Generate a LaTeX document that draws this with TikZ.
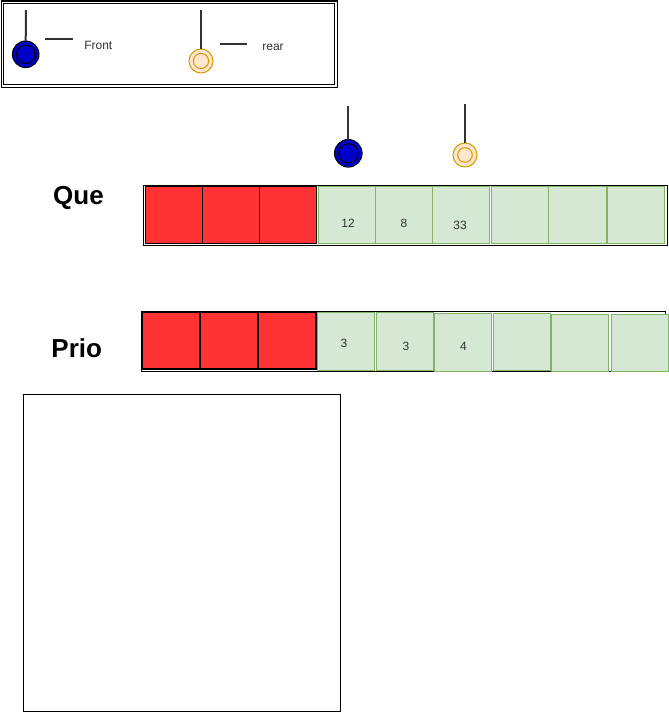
\documentclass[tikz,border=0pt]{standalone}
\usepackage{fontspec}
\setmainfont{Liberation Sans}
\usetikzlibrary{fit}
\definecolor{cellred}{HTML}{FF3333}
\definecolor{cellgreenfill}{HTML}{D5E8D4}
\definecolor{cellgreenline}{HTML}{82B366}
\definecolor{frontblue}{HTML}{0000CC}
\definecolor{rearfill}{HTML}{FFE6CC}
\definecolor{rearline}{HTML}{D79B00}
\definecolor{pinline}{HTML}{333333}
\definecolor{txt}{HTML}{333333}
\tikzset{
  cellbase/.style={inner sep=0pt, outer sep=0pt},
  redq/.style={cellbase, fill=cellred, draw=black, line width=0.9pt},
  redp/.style={cellbase, fill=cellred, draw=black, line width=1.8pt},
  greencell/.style={cellbase, fill=cellgreenfill, draw=cellgreenline, line width=1pt},
  rowframe/.style={cellbase, draw=black, line width=1pt},
  plainbox/.style={cellbase, draw=black, line width=1pt},
  pinstem/.style={draw=pinline, line width=2pt},
  dashmark/.style={draw=pinline, line width=2pt},
  fronthead/.style={circle, fill=frontblue, draw=black, line width=1pt, inner sep=0pt, outer sep=0pt},
  rearhead/.style={circle, fill=rearfill, draw=rearline, line width=1pt, inner sep=0pt, outer sep=0pt},
  frontring/.style={draw=black, line width=1pt},
  rearring/.style={draw=rearline, line width=1pt},
  smalltext/.style={font=\fontsize{12}{14}\selectfont, text=txt, inner sep=0pt, anchor=base},
  rowlabel/.style={font=\fontsize{26}{30}\selectfont\bfseries, text=black, inner sep=0pt, anchor=base}
}
\begin{document}
\begin{tikzpicture}[x=1pt,y=-1pt]
\useasboundingbox (0,0) rectangle (669,712);
\fill[white] (0,0) rectangle (669,712);

% ---------- legend ----------
\node[plainbox, fit={(1,1) (337.5,87.5)}] (legend) {};
\node[plainbox, fit={(3.7,3.7) (334.8,84.8)}] (legendinner) {};

\coordinate (lfTop) at (26,10);
\node[fronthead, minimum size=26.6pt] (lfHead) at (25.7,54.3) {};
\draw[frontring] (lfHead.center) circle (9.3pt);
\draw[pinstem] (lfTop) -- (lfHead.north);
\coordinate (lfDashA) at (45,39.3);
\coordinate (lfDashB) at (72.7,39.3);
\draw[dashmark] (lfDashA) -- (lfDashB);
\node[smalltext] (lfText) at (98.3,49) {Front};

\coordinate (lrTop) at (201,10);
\node[rearhead, minimum size=24pt] (lrHead) at (201,61) {};
\draw[rearring] (lrHead.center) circle (7.6pt);
\draw[pinstem] (lrTop) -- (lrHead.north);
\coordinate (lrDashA) at (220,44);
\coordinate (lrDashB) at (247.3,44);
\draw[dashmark] (lrDashA) -- (lrDashB);
\node[smalltext] (lrText) at (273,50) {rear};

% ---------- pointers ----------
\coordinate (pfTop) at (348.3,105.7);
\node[fronthead, minimum size=27.6pt] (pfHead) at (348.3,153.3) {};
\draw[frontring] (pfHead.center) circle (9.7pt);
\draw[pinstem] (pfTop) -- (pfHead.north);

\coordinate (prTop) at (465,104.3);
\node[rearhead, minimum size=24pt] (prHead) at (465,155) {};
\draw[rearring] (prHead.center) circle (7.3pt);
\draw[pinstem] (prTop) -- (prHead.north);

% ---------- Que row ----------
\node[rowlabel] (queLabel) at (78.5,204.3) {Que};
\node[rowframe, fit={(143.3,185.3) (667.3,245.3)}] (queFrame) {};
\node[redq, fit={(145.3,186.7) (202.3,243.3)}] (q1) {};
\node[redq, fit={(202.3,186.7) (259.3,243.3)}] (q2) {};
\node[redq, fit={(259.3,186.7) (316.3,243.3)}] (q3) {};
\node[greencell, fit={(318,186.7) (375,243.7)}] (q4) {};
\node[greencell, fit={(375,186.7) (432.4,243.7)}] (q5) {};
\node[greencell, fit={(432.4,186.7) (489.7,243.7)}] (q6) {};
\node[greencell, fit={(491,186.7) (548.3,243.7)}] (q7) {};
\node[greencell, fit={(548.3,186.7) (606,243.7)}] (q8) {};
\node[greencell, fit={(607,186.7) (664.7,243.7)}] (q9) {};
\node[smalltext] (qv1) at (348,227) {12};
\node[smalltext] (qv2) at (404,227) {8};
\node[smalltext] (qv3) at (460,229) {33};

% ---------- Prio row ----------
\node[rowlabel] (prioLabel) at (76.7,357.7) {Prio};
\node[rowframe, fit={(141.3,311.3) (665.7,371)}] (prioFrame) {};
\node[redp, fit={(142.3,312.3) (200,369.3)}] (p1) {};
\node[redp, fit={(200,312.3) (258,369.3)}] (p2) {};
\node[redp, fit={(258,312.3) (315.7,369.3)}] (p3) {};
\node[greencell, fit={(317,312.6) (374.7,370.5)}] (p4) {};
\node[greencell, fit={(376,312.6) (433.5,370.5)}] (p5) {};
\node[greencell, fit={(434,313.6) (491.7,371.5)}] (p6) {};
\node[greencell, fit={(493,313.6) (550.7,370.7)}] (p7) {};
\node[greencell, fit={(551.3,314.4) (608.7,371.7)}] (p8) {};
\node[greencell, fit={(611,314.4) (668.5,371.7)}] (p9) {};
\node[smalltext] (pv1) at (344,347) {3};
\node[smalltext] (pv2) at (406,350) {3};
\node[smalltext] (pv3) at (463.5,350) {4};

% ---------- empty box ----------
\node[plainbox, fit={(23.3,394.3) (340.3,711.3)}] (bigBox) {};
\end{tikzpicture}
\end{document}
